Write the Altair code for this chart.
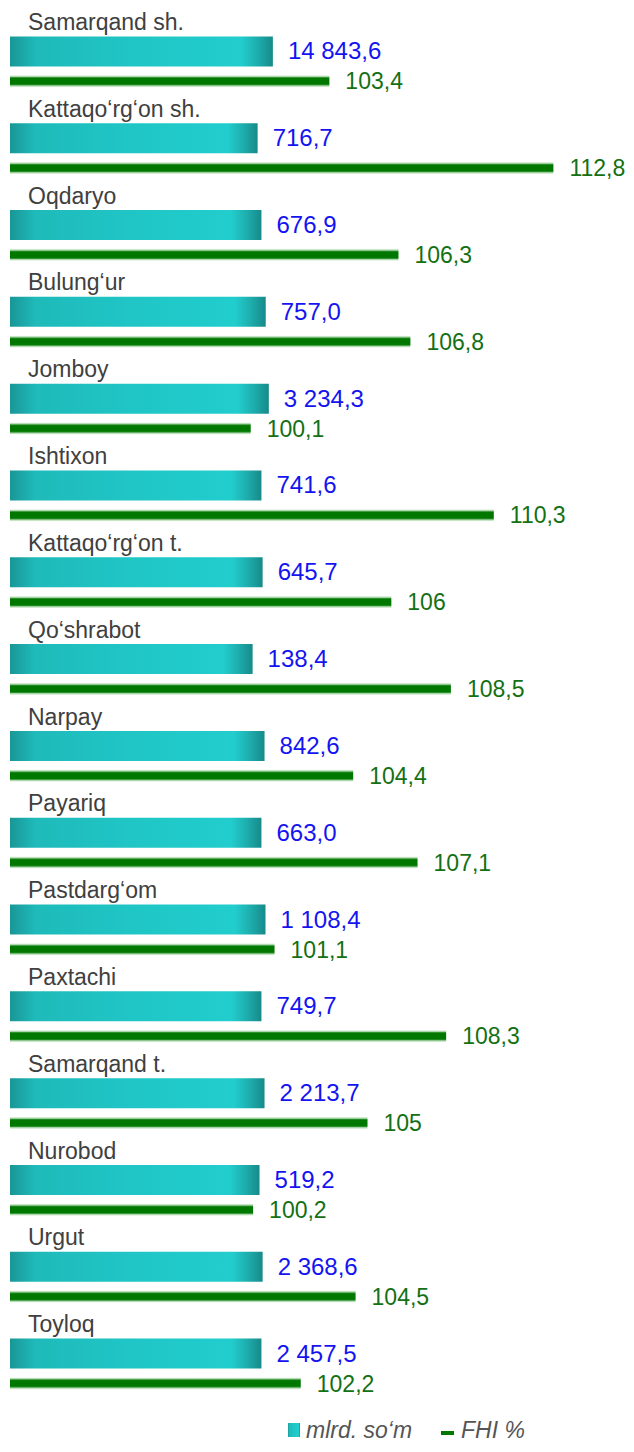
import altair as alt
import pandas as pd

districts = [
    "Samarqand sh.", "Kattaqo‘rg‘on sh.", "Oqdaryo", "Bulung‘ur", "Jomboy",
    "Ishtixon", "Kattaqo‘rg‘on t.", "Qo‘shrabot", "Narpay", "Payariq",
    "Pastdarg‘om", "Paxtachi", "Samarqand t.", "Nurobod", "Urgut", "Toyloq",
]
# value labels (mlrd. so'm)
mlrd_som = [14843.6, 716.7, 676.9, 757.0, 3234.3, 741.6, 645.7, 138.4,
            842.6, 663.0, 1108.4, 749.7, 2213.7, 519.2, 2368.6, 2457.5]
# teal bar lengths as drawn in the original (not proportional to labels),
# expressed in units of the shared axis
mlrd_bar_length = [101.03, 100.39, 100.55, 100.73, 100.86, 100.55, 100.60, 100.18,
                   100.68, 100.55, 100.72, 100.55, 100.68, 100.47, 100.60, 100.55]
# FHI %
fhi = [103.4, 112.8, 106.3, 106.8, 100.1, 110.3, 106, 108.5,
       104.4, 107.1, 101.1, 108.3, 105, 100.2, 104.5, 102.2]

legend_labels = ["mlrd. so‘m", "FHI %"]


def fmt_som(v):
    return f"{v:,.1f}".replace(",", " ").replace(".", ",")


def fmt_fhi(v):
    return str(v).replace(".", ",")


df = pd.DataFrame({
    "district": districts,
    "som": mlrd_som,
    "som_len": mlrd_bar_length,
    "som_label": [fmt_som(v) for v in mlrd_som],
    "fhi": fhi,
    "fhi_label": [fmt_fhi(v) for v in fhi],
})

FONT = "Liberation Sans"
xscale = alt.Scale(domain=[90, 114], nice=False, zero=False)
yenc = alt.Y("district:N", sort=districts, axis=None,
             scale=alt.Scale(paddingInner=0, paddingOuter=0))

teal_grad = alt.Gradient(
    gradient="linear", x1=0, y1=0, x2=1, y2=0,
    stops=[
        alt.GradientStop(color="#1a9696", offset=0),
        alt.GradientStop(color="#1fbaba", offset=0.1),
        alt.GradientStop(color="#20c6c6", offset=0.5),
        alt.GradientStop(color="#22cdcd", offset=0.88),
        alt.GradientStop(color="#1eaeae", offset=0.94),
        alt.GradientStop(color="#178a8a", offset=1),
    ],
)
green_grad = alt.Gradient(
    gradient="linear", x1=0, y1=0, x2=0, y2=1,
    stops=[
        alt.GradientStop(color="#eef7ee", offset=0),
        alt.GradientStop(color="#a6d4a6", offset=0.12),
        alt.GradientStop(color="#2a8f2a", offset=0.2),
        alt.GradientStop(color="#007800", offset=0.27),
        alt.GradientStop(color="#007800", offset=0.73),
        alt.GradientStop(color="#2a8f2a", offset=0.8),
        alt.GradientStop(color="#a6d4a6", offset=0.88),
        alt.GradientStop(color="#eef7ee", offset=1),
    ],
)

base = alt.Chart(df)

teal = base.mark_bar(height=30, color=teal_grad).encode(
    x=alt.X("som_len:Q", scale=xscale, axis=None),
    x2=alt.datum(90),
    y=yenc,
)
teal_text = base.mark_text(align="left", baseline="middle", dx=15, dy=1,
                           font=FONT, fontSize=24, color="#1414f0").encode(
    x=alt.X("som_len:Q", scale=xscale, axis=None),
    y=yenc,
    text="som_label:N",
)
green = base.mark_bar(height=12, yOffset=29.8, color=green_grad).encode(
    x=alt.X("fhi:Q", scale=xscale, axis=None),
    x2=alt.datum(90),
    y=yenc,
)
green_text = base.mark_text(align="left", baseline="middle", dx=16, dy=31,
                            font=FONT, fontSize=23, color="#137013").encode(
    x=alt.X("fhi:Q", scale=xscale, axis=None),
    y=yenc,
    text="fhi_label:N",
)
cat_text = base.mark_text(align="left", baseline="alphabetic", dy=-21.4,
                          font=FONT, fontSize=23, color="#404040").encode(
    x=alt.value(18),
    y=yenc,
    text="district:N",
)

leg_df = pd.DataFrame({"label": legend_labels})
leg_sq = alt.Chart(leg_df).transform_filter(alt.datum.label == legend_labels[0]).mark_rect(
    color=teal_grad).encode(
    x=alt.value(278), x2=alt.value(290), y=alt.value(1415), y2=alt.value(1429))
leg_dash = alt.Chart(leg_df).transform_filter(alt.datum.label == legend_labels[1]).mark_rect(
    color="#007800").encode(
    x=alt.value(431), x2=alt.value(444), y=alt.value(1423), y2=alt.value(1427))
leg_t1 = alt.Chart(leg_df).transform_filter(alt.datum.label == legend_labels[0]).mark_text(
    align="left", baseline="alphabetic", font=FONT, fontSize=23, fontStyle="italic",
    color="#555555").encode(x=alt.value(296), y=alt.value(1430), text="label:N")
leg_t2 = alt.Chart(leg_df).transform_filter(alt.datum.label == legend_labels[1]).mark_text(
    align="left", baseline="alphabetic", font=FONT, fontSize=23, fontStyle="italic",
    color="#555555").encode(x=alt.value(451), y=alt.value(1430), text="label:N")

chart = alt.layer(
    teal, green, teal_text, green_text, cat_text, leg_sq, leg_dash, leg_t1, leg_t2
).properties(
    width=572, height=1389, background="white",
    autosize=alt.AutoSizeParams(type="none"),
    padding={"left": 2, "top": 0, "right": 44, "bottom": 47},
).configure_view(strokeWidth=0, strokeOpacity=0)

chart.save("out.html", embed_options={"renderer": "svg", "actions": False})
